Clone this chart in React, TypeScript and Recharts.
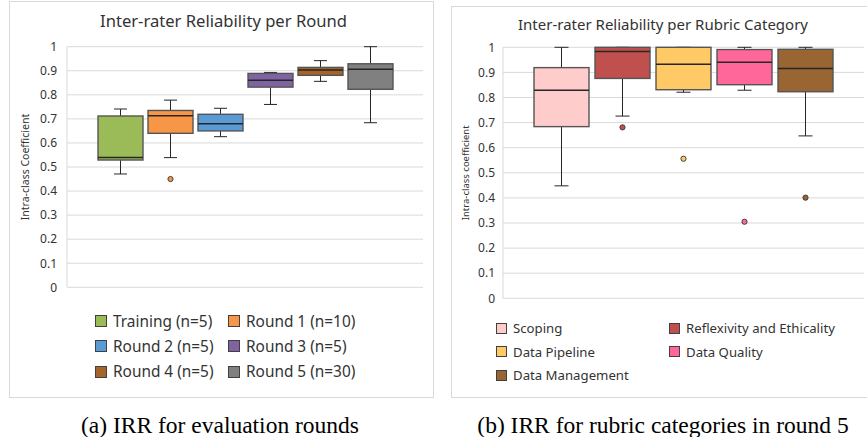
import React from 'react';
import { ComposedChart, Bar, XAxis, YAxis, CartesianGrid } from 'recharts';

// ---------- Data: (a) rounds ----------
const roundNames = ['Training (n=5)', 'Round 1 (n=10)', 'Round 2 (n=5)', 'Round 3 (n=5)', 'Round 4 (n=5)', 'Round 5 (n=30)'];
const roundMin = [0.471, 0.539, 0.626, 0.76, 0.856, 0.684];
const roundQ1 = [0.529, 0.64, 0.65, 0.832, 0.881, 0.823];
const roundMedian = [0.54, 0.713, 0.68, 0.861, 0.903, 0.906];
const roundQ3 = [0.712, 0.735, 0.719, 0.889, 0.914, 0.929];
const roundMax = [0.741, 0.778, 0.744, 0.893, 0.942, 1.0];
const roundOutliers: number[][] = [[], [0.45], [], [], [], []];
const roundColors = ['#9BBB59', '#F79646', '#5B9BD5', '#8064A2', '#A5652A', '#808080'];

// ---------- Data: (b) rubric categories ----------
const rubricNames = ['Scoping', 'Reflexivity and Ethicality', 'Data Pipeline', 'Data Quality', 'Data Management'];
const rubricMin = [0.448, 0.726, 0.821, 0.829, 0.647];
const rubricQ1 = [0.684, 0.876, 0.831, 0.851, 0.823];
const rubricMedian = [0.829, 0.983, 0.932, 0.94, 0.916];
const rubricQ3 = [0.919, 1.0, 1.0, 0.991, 0.992];
const rubricMax = [1.0, 1.0, 1.0, 1.0, 1.0];
const rubricOutliers: number[][] = [[], [0.681], [0.556], [0.305], [0.401]];
const rubricColors = ['#FFCCCC', '#C0504D', '#FFC966', '#FF6699', '#996633'];

const yTicks = [0, 0.1, 0.2, 0.3, 0.4, 0.5, 0.6, 0.7, 0.8, 0.9, 1];

const FONT = "'Noto Sans', 'Open Sans', sans-serif";
const TEXT = '#333333';
const SERIF = "'Liberation Serif', 'Times New Roman', serif";

function build(names: string[], mn: number[], q1: number[], md: number[], q3: number[], mx: number[], out: number[][], colors: string[]) {
  return names.map((name, i) => ({
    name,
    min: mn[i],
    q1: q1[i],
    median: md[i],
    q3: q3[i],
    max: mx[i],
    outliers: out[i],
    color: colors[i],
  }));
}

const roundData = build(roundNames, roundMin, roundQ1, roundMedian, roundQ3, roundMax, roundOutliers, roundColors);
const rubricData = build(rubricNames, rubricMin, rubricQ1, rubricMedian, rubricQ3, rubricMax, rubricOutliers, rubricColors);

const fmt = (v: number) => String(Number(v.toFixed(1)));

function BoxShape(props: any) {
  const { x, y, width, height, payload, cap } = props;
  if (payload == null || x == null) return <g />;
  const top = Math.min(y, y + height);
  const bottom = Math.max(y, y + height);
  const span = payload.max - payload.min;
  const py = (v: number) => bottom - ((v - payload.min) / span) * (bottom - top);
  const cx = x + width / 2;
  const yq1 = py(payload.q1);
  const yq3 = py(payload.q3);
  const ymed = py(payload.median);
  const ymax = py(payload.max);
  const ymin = py(payload.min);
  return (
    <g>
      <line x1={cx} x2={cx} y1={yq3} y2={ymax} stroke="#262626" strokeWidth={1} />
      <line x1={cx - cap / 2} x2={cx + cap / 2} y1={ymax} y2={ymax} stroke="#262626" strokeWidth={1} />
      <line x1={cx} x2={cx} y1={yq1} y2={ymin} stroke="#262626" strokeWidth={1} />
      <line x1={cx - cap / 2} x2={cx + cap / 2} y1={ymin} y2={ymin} stroke="#262626" strokeWidth={1} />
      <rect x={x} y={yq3} width={width} height={Math.max(0, yq1 - yq3)} fill={payload.color} stroke="#555555" strokeWidth={1.4} />
      <line x1={x} x2={x + width} y1={ymed} y2={ymed} stroke="#262626" strokeWidth={1.5} />
      {payload.outliers.map((o: number, k: number) => (
        <circle key={k} cx={cx} cy={py(o)} r={2.6} fill={payload.color} stroke="#404040" strokeWidth={1} />
      ))}
    </g>
  );
}

function LegendBlock({ names, colors, left, top, colX, rowH, fontSize, sq }: any) {
  return (
    <>
      {names.map((n: string, i: number) => {
        const col = i % 2;
        const row = Math.floor(i / 2);
        return (
          <div
            key={n}
            style={{
              position: 'absolute',
              left: left + colX[col],
              top: top + row * rowH,
              height: 20,
              display: 'flex',
              alignItems: 'center',
              fontFamily: FONT,
              fontSize,
              color: TEXT,
              whiteSpace: 'nowrap',
              transform: 'translateY(-10px)',
            }}
          >
            <span
              style={{
                display: 'inline-block',
                width: sq,
                height: sq,
                background: colors[i],
                border: '1px solid #404040',
                marginRight: 6,
              }}
            />
            {n}
          </div>
        );
      })}
    </>
  );
}

export default function App() {
  return (
    <div style={{ position: 'absolute', left: 0, top: 0, width: 867, height: 437, overflow: 'hidden', background: '#fff' }}>
      {/* Panel (a) */}
      <div style={{ position: 'absolute', left: 9, top: 1, width: 423, height: 395, border: '1px solid #D9D9D9' }} />
      <div style={{ position: 'absolute', left: 9, top: 1 }}>
        <ComposedChart width={425} height={397} data={roundData} margin={{ top: 45.7, right: 11, bottom: 110.7, left: 0 }}>
          <CartesianGrid vertical={false} stroke="#D9D9D9" />
          <XAxis dataKey="name" hide padding={{ left: 28, right: 28 }} />
          <YAxis
            domain={[0, 1]}
            ticks={yTicks}
            interval={0}
            width={58}
            tickLine={false}
            axisLine={{ stroke: '#D9D9D9' }}
            tickMargin={4}
            tickFormatter={fmt}
            tick={{ fontSize: 12, fill: TEXT, fontFamily: FONT }}
            label={{ value: 'Intra-class Coefficient', angle: -90, position: 'center', dx: -13, style: { fontSize: 10.5, fill: TEXT, fontFamily: FONT } }}
          />
          <Bar dataKey={(d: any) => [d.min, d.max]} barSize={45} isAnimationActive={false} shape={(p: any) => <BoxShape {...p} cap={13} />} />
        </ComposedChart>
      </div>
      <div style={{ position: 'absolute', left: 9, width: 425, top: 10, textAlign: 'center', fontFamily: FONT, fontSize: 16.6, color: TEXT, lineHeight: '22px', paddingLeft: 2 }}>
        Inter-rater Reliability per Round
      </div>
      <LegendBlock names={roundNames} colors={roundColors} left={95} top={321} colX={[0, 133]} rowH={25.3} fontSize={15.4} sq={10} />

      {/* Panel (b) */}
      <div style={{ position: 'absolute', left: 451, top: 6, width: 430, height: 390, border: '1px solid #D9D9D9' }} />
      <div style={{ position: 'absolute', left: 451, top: 6 }}>
        <ComposedChart width={416} height={391} data={rubricData} margin={{ top: 41.3, right: 3, bottom: 98.7, left: 0 }}>
          <CartesianGrid vertical={false} stroke="#D9D9D9" />
          <XAxis dataKey="name" hide padding={{ left: 28, right: 28 }} />
          <YAxis
            domain={[0, 1]}
            ticks={yTicks}
            interval={0}
            width={52}
            tickLine={false}
            axisLine={{ stroke: '#D9D9D9' }}
            tickMargin={2}
            tickFormatter={fmt}
            tick={{ fontSize: 12, fill: TEXT, fontFamily: FONT }}
            label={{ value: 'Intra-class coefficient', angle: -90, position: 'center', dx: -11, style: { fontSize: 9.5, fill: TEXT, fontFamily: FONT } }}
          />
          <Bar dataKey={(d: any) => [d.min, d.max]} barSize={55} isAnimationActive={false} shape={(p: any) => <BoxShape {...p} cap={14} />} />
        </ComposedChart>
      </div>
      <div style={{ position: 'absolute', left: 451, width: 424, top: 13, textAlign: 'center', fontFamily: FONT, fontSize: 15, color: TEXT, lineHeight: '22px' }}>
        Inter-rater Reliability per Rubric Category
      </div>
      <LegendBlock names={rubricNames} colors={rubricColors} left={496} top={328.3} colX={[0, 173]} rowH={23.4} fontSize={13.2} sq={9} />

      {/* Captions */}
      <div style={{ position: 'absolute', left: 0, width: 440, top: 410, textAlign: 'center', fontFamily: SERIF, fontSize: 23.5, color: '#000', lineHeight: '30px' }}>
        (a) IRR for evaluation rounds
      </div>
      <div style={{ position: 'absolute', left: 443, width: 440, top: 410, textAlign: 'center', fontFamily: SERIF, fontSize: 23.5, color: '#000', lineHeight: '30px' }}>
        (b) IRR for rubric categories in round 5
      </div>
    </div>
  );
}
